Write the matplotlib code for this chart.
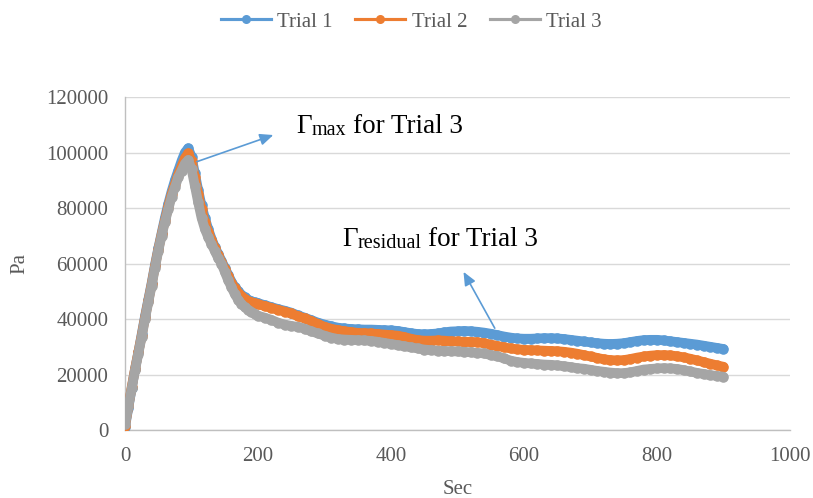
import matplotlib
matplotlib.use("Agg")
import matplotlib.pyplot as plt
from matplotlib.lines import Line2D

plt.rcParams["font.family"] = ["Liberation Serif", "DejaVu Serif"]

# Sampling times (s): 5 s steps through the peak, 10 s afterwards
time_s = list(range(0, 200, 5)) + list(range(200, 901, 10))

trial1 = [
    1000, 8000, 15000, 22000, 28000, 34500, 41000, 47000, 53000, 59500,
    65500, 71000, 76500, 81500, 86000, 90000, 93500, 97000, 100000, 101500,
    98500, 92500, 86500, 81000, 76500, 72500, 69000, 66000, 63500, 61000,
    58500, 56000, 53500, 51500, 50000, 48800, 47800, 47000, 46400, 46000,
    45700, 45000, 44300, 43600, 43000, 42300, 41300, 40500, 39600, 38700,
    38000, 37400, 36900, 36600, 36400, 36300, 36200, 36200, 36100, 36000,
    35900, 35700, 35300, 34900, 34600, 34500, 34600, 34800, 35200, 35500,
    35600, 35700, 35600, 35400, 35100, 34700, 34200, 33700, 33300, 33000,
    32900, 32900, 33000, 33100, 33100, 33000, 32800, 32500, 32200, 31900,
    31600, 31300, 31100, 31000, 31100, 31300, 31700, 32100, 32400, 32500,
    32500, 32300, 32000, 31700, 31400, 31100, 30800, 30400, 30000, 29600,
    29200,
]

trial2 = [
    1500, 8500, 15500, 22000, 28000, 34000, 40500, 46500, 52500, 59000,
    65000, 70500, 75500, 80500, 85000, 88500, 92000, 95000, 98000, 99700,
    97000, 91000, 85000, 79500, 75000, 71500, 68500, 65500, 63000, 60500,
    58000, 55500, 53000, 51000, 49500, 48300, 47300, 46500, 46000, 45600,
    45300, 44700, 44000, 43300, 42700, 42000, 41000, 40200, 39300, 38200,
    37200, 36500, 36000, 35600, 35300, 35000, 34900, 34800, 34600, 34400,
    34200, 34000, 33500, 32900, 32400, 32200, 32200, 32300, 32200, 32000,
    31900, 31800, 31800, 31600, 31300, 30800, 30300, 29800, 29400, 29100,
    28900, 28800, 28700, 28600, 28500, 28400, 28200, 27900, 27500, 27000,
    26500, 26000, 25500, 25200, 25100, 25200, 25600, 26100, 26500, 26800,
    27000, 27000, 26900, 26600, 26200, 25700, 25100, 24500, 23900, 23300,
    22800,
]

trial3 = [
    2000, 8500, 15000, 21500, 27500, 33500, 40000, 46000, 52000, 58500,
    64500, 70000, 75000, 79500, 84000, 87500, 91000, 93500, 96000, 97300,
    94000, 88000, 82000, 76500, 72500, 69500, 67000, 64500, 62000, 60000,
    57000, 54000, 51500, 49000, 47000, 45500, 44300, 43400, 42600, 41900,
    41200, 40500, 39700, 38700, 38000, 37500, 37200, 36500, 35600, 34800,
    34000, 33300, 32800, 32600, 32500, 32400, 32300, 32100, 31800, 31400,
    31000, 30600, 30200, 29800, 29400, 29000, 28800, 28600, 28500, 28400,
    28300, 28200, 28000, 27800, 27600, 27000, 26600, 25800, 25000, 24500,
    24200, 24000, 23800, 23600, 23500, 23300, 23000, 22700, 22300, 22100,
    21700, 21300, 21000, 20700, 20500, 20500, 20800, 21300, 21800, 22000,
    22200, 22300, 22200, 22000, 21600, 21100, 20600, 20200, 19800, 19500,
    19200,
]

series_names = ["Trial 1", "Trial 2", "Trial 3"]
series_colors = ["#5B9BD5", "#ED7D31", "#A5A5A5"]

x_ticks = [0, 200, 400, 600, 800, 1000]
y_ticks = [0, 20000, 40000, 60000, 80000, 100000, 120000]

fig = plt.figure(figsize=(8.13, 4.98), dpi=100)
ax = fig.add_axes([0.1538, 0.1365, 0.8179, 0.6687])

for vals, color in zip([trial1, trial2, trial3], series_colors):
    ax.plot(time_s, vals, color=color, linewidth=7.0, marker="o",
            markersize=7.6, markeredgewidth=0, solid_joinstyle="round",
            solid_capstyle="round", zorder=3)

ax.set_xlim(0, 1000)
ax.set_ylim(0, 120000)
ax.set_xticks(x_ticks)
ax.set_yticks(y_ticks)
ax.set_xticklabels([str(v) for v in x_ticks])
ax.set_yticklabels([str(v) for v in y_ticks])
ax.tick_params(axis="both", length=0, labelsize=15, labelcolor="#595959")
ax.tick_params(axis="y", pad=12)
ax.tick_params(axis="x", pad=12)

ax.grid(axis="y", color="#D9D9D9", linewidth=1.0, zorder=0)
ax.set_axisbelow(True)
for side in ["top", "right"]:
    ax.spines[side].set_visible(False)
for side in ["left", "bottom"]:
    ax.spines[side].set_color("#BFBFBF")
    ax.spines[side].set_linewidth(1.0)

ax.set_xlabel("Sec", fontsize=15, color="#595959", labelpad=10)
ax.set_ylabel("Pa", fontsize=15, color="#595959", labelpad=12)

# Annotations pointing at the peak and the residual plateau of Trial 3
arrow_style = dict(arrowstyle="-|>,head_length=0.8,head_width=0.35",
                   color="#5B9BD5", linewidth=1.2, shrinkA=0, shrinkB=0)
ax.annotate("", xy=(223, 106300), xytext=(108, 96700),
            arrowprops=arrow_style, zorder=5)
ax.annotate("", xy=(509, 57000), xytext=(556, 36700),
            arrowprops=arrow_style, zorder=5)


def gamma_label(x, baseline, subscript):
    """Write 'Γ<sub> for Trial 3' starting at x with the given baseline."""
    g = ax.text(x, baseline, "Γ", fontsize=19.5, color="black",
                ha="left", va="baseline")
    s = ax.annotate(subscript, xy=(1, baseline), xycoords=(g, "data"),
                    xytext=(0.3, -1.5), textcoords="offset points",
                    fontsize=14.5, color="black", ha="left", va="baseline")
    ax.annotate("for Trial 3", xy=(1, baseline), xycoords=(s, "data"),
                xytext=(4.5, 0), textcoords="offset points",
                fontsize=19.5, color="black", ha="left", va="baseline")


gamma_label(257, 106900, "max")
gamma_label(326, 66400, "residual")

handles = [Line2D([0], [0], color=c, linewidth=2.25, marker="o",
                  markersize=6.5, markeredgewidth=0) for c in series_colors]
leg = fig.legend(handles, series_names, loc="center", ncol=3,
                 bbox_to_anchor=(0.506, 0.956), frameon=False, fontsize=15,
                 handlelength=2.4, handletextpad=0.3, columnspacing=1.1)
for t in leg.get_texts():
    t.set_color("#595959")

fig.savefig("out.png", dpi=100)
